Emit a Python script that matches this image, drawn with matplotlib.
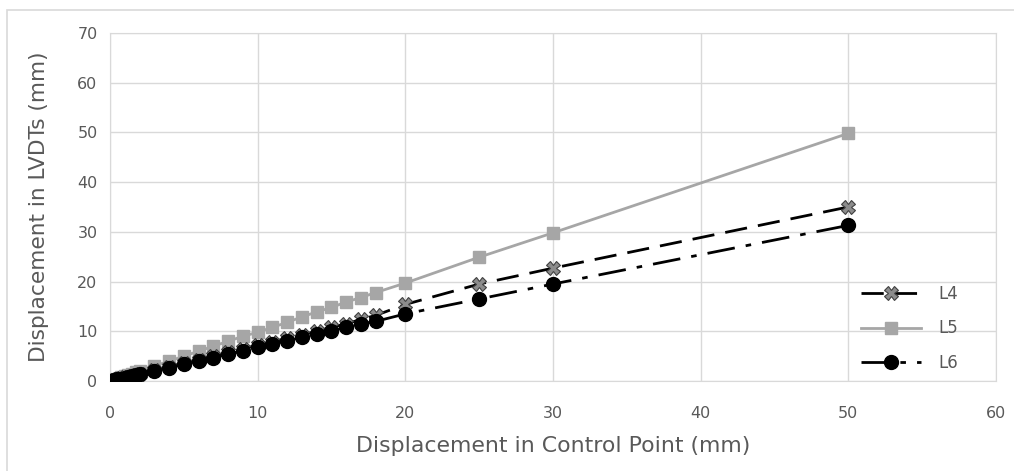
import matplotlib
matplotlib.use("Agg")
import matplotlib.pyplot as plt
from matplotlib.patches import Rectangle

plt.rcParams['font.family'] = ['DejaVu Sans']

# displacement in control point (mm)
control = [0, 0.25, 0.5, 0.75, 1, 1.25, 1.5, 1.75, 2, 3, 4, 5, 6, 7, 8, 9,
           10, 11, 12, 13, 14, 15, 16, 17, 18, 20, 25, 30, 50]

# LVDT readings (mm)
l4 = [0, 0.2, 0.4, 0.55, 0.75, 0.9, 1.1, 1.3, 1.45, 2.2, 2.9, 3.6, 4.3,
      5.0, 5.8, 6.5, 7.2, 7.9, 8.6, 9.3, 10.0, 10.8, 11.5, 12.4, 13.2,
      15.4, 19.5, 22.7, 35.0]
l5 = [0, 0.25, 0.5, 0.75, 1, 1.25, 1.5, 1.75, 2, 3, 4, 5, 6, 7, 8, 9,
      9.8, 10.8, 11.8, 12.9, 13.9, 14.8, 15.9, 16.8, 17.8,
      19.7, 24.9, 29.8, 49.8]
l6 = [0, 0.15, 0.35, 0.5, 0.7, 0.85, 1.0, 1.2, 1.35, 2.1, 2.7, 3.4, 4.1,
      4.7, 5.4, 6.1, 6.8, 7.5, 8.1, 8.8, 9.5, 10.1, 10.8, 11.5, 12.0,
      13.5, 16.5, 19.5, 31.3]

text_color = '#595959'
grid_color = '#d9d9d9'

fig = plt.figure(figsize=(10.14, 4.71), dpi=100)
ax = fig.add_axes([0.1085, 0.191, 0.8735, 0.739])

# chart area border
fig.patches.append(Rectangle((7 / 1014, -0.1), 1.2, 1 - 10 / 471 + 0.1,
                             transform=fig.transFigure, fill=False,
                             edgecolor='#d9d9d9', linewidth=1.2))

ax.plot(control, l4, color='black', linewidth=2, dashes=(8, 4),
        marker='X', markersize=10, markerfacecolor='#8c8c8c',
        markeredgecolor='#404040', markeredgewidth=0.8, label='L4', zorder=3)
ax.plot(control, l5, color='#a6a6a6', linewidth=2, marker='s',
        markersize=9, markerfacecolor='#a6a6a6', markeredgecolor='#a6a6a6',
        label='L5', zorder=2)
ax.plot(control, l6, color='black', linewidth=2, dashes=(10, 4, 2, 4),
        marker='o', markersize=10, markerfacecolor='black',
        markeredgecolor='black', label='L6', zorder=4)

ax.set_xlim(0, 60)
ax.set_ylim(0, 70)
ax.set_xticks(range(0, 61, 10))
ax.set_yticks(range(0, 71, 10))
ax.grid(True, color=grid_color, linewidth=1)
ax.set_axisbelow(True)
for s in ax.spines.values():
    s.set_color(grid_color)
ax.tick_params(length=0, colors=text_color, labelsize=11.5)
ax.tick_params(axis='x', pad=18)
ax.tick_params(axis='y', pad=9)

ax.set_xlabel('Displacement in Control Point (mm)', fontsize=15.8,
              color=text_color, labelpad=11)
ax.set_ylabel('Displacement in LVDTs (mm)', fontsize=15.6,
              color=text_color, labelpad=20)

leg = ax.legend(loc='lower right', bbox_to_anchor=(0.976, -0.022),
                frameon=False, fontsize=12, handlelength=3.6,
                handletextpad=1.0, labelspacing=1.0, borderaxespad=0.6)
for t in leg.get_texts():
    t.set_color(text_color)

fig.savefig('out.png', dpi=100)
